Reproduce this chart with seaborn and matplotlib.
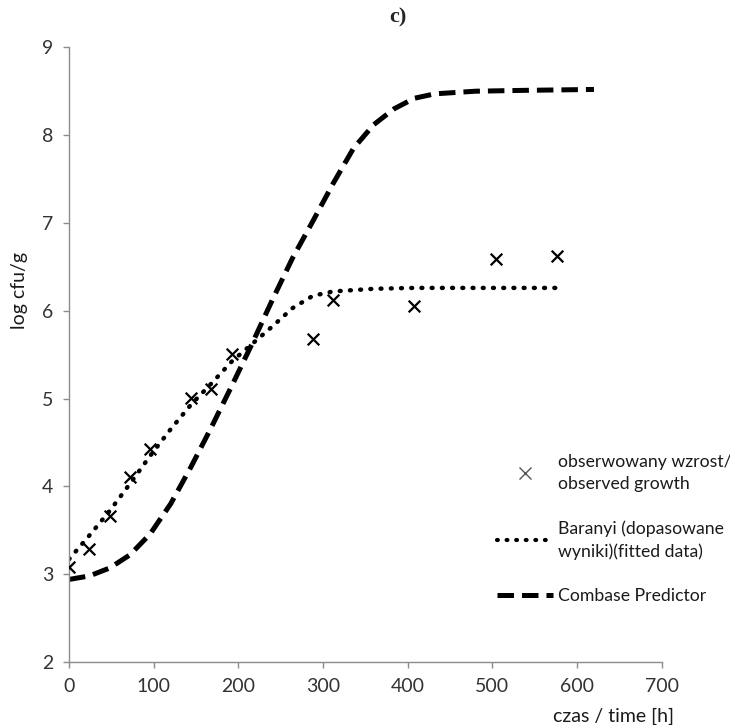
import matplotlib
matplotlib.use('Agg')
import matplotlib.pyplot as plt
import seaborn as sns
import pandas as pd
from matplotlib.lines import Line2D

# observed growth
time_obs = [0, 24, 48, 72, 96, 144, 168, 192, 288, 312, 408, 504, 576]
log_obs = [3.08, 3.29, 3.66, 4.11, 4.42, 5.01, 5.11, 5.51, 5.68, 6.12, 6.05, 6.59, 6.62]

# Baranyi fitted curve
time_fit = [0, 24, 48, 72, 96, 120, 144, 168, 192, 216, 240, 264, 288, 312, 360, 408, 504, 576]
log_fit = [3.17, 3.44, 3.72, 4.03, 4.35, 4.65, 4.93, 5.17, 5.42, 5.62, 5.82, 6.03, 6.17, 6.22, 6.25, 6.26, 6.26, 6.26]

# Combase Predictor curve
time_pred = [0, 24, 48, 72, 96, 120, 144, 168, 192, 216, 240, 264, 288, 312, 336, 360, 384, 408, 432, 480, 540, 620]
log_pred = [2.94, 2.98, 3.07, 3.22, 3.46, 3.80, 4.22, 4.67, 5.14, 5.62, 6.12, 6.60, 7.02, 7.45, 7.85, 8.12, 8.30, 8.42, 8.47, 8.50, 8.51, 8.52]

labels = ['obserwowany wzrost/\nobserved growth',
          'Baranyi (dopasowane\nwyniki)(fitted data)',
          'Combase Predictor']

sns.set_style('white')
plt.rcParams['font.family'] = ['Lato', 'DejaVu Sans']

fig = plt.figure(figsize=(7.3, 7.25), dpi=100)
ax = fig.add_axes([69 / 730, 1 - 662 / 725, 592.7 / 730, 614.7 / 725])

obs = pd.DataFrame({'t': time_obs, 'y': log_obs})
fit = pd.DataFrame({'t': time_fit, 'y': log_fit})
pred = pd.DataFrame({'t': time_pred, 'y': log_pred})

sns.scatterplot(data=obs, x='t', y='y', marker='x', color='black', s=70,
                linewidth=1.6, ax=ax, zorder=3)
sns.lineplot(data=fit, x='t', y='y', color='black', lw=3.2, ax=ax,
             linestyle=(0, (0.2, 2.1)), dash_capstyle='round', zorder=2)
sns.lineplot(data=pred, x='t', y='y', color='black', lw=3.6, ax=ax,
             linestyle=(0, (3.3, 1.6)), zorder=2)

ax.set_xlim(0, 700)
ax.set_ylim(2, 9)
ax.set_xticks(range(0, 701, 100))
ax.set_yticks(range(2, 10))
for side in ['top', 'right']:
    ax.spines[side].set_visible(False)
for side in ['left', 'bottom']:
    ax.spines[side].set_color('#8c8c8c')
    ax.spines[side].set_linewidth(1.0)
ax.tick_params(axis='both', direction='out', length=4.5, width=1.0, color='#8c8c8c',
               labelsize=14, labelcolor='#333333', pad=7, bottom=True, left=True)

ax.set_xlabel('')
ax.set_ylabel('log cfu/g', fontsize=14, color='#1a1a1a')
ax.yaxis.set_label_coords(-0.07, 0.605)
fig.text(674 / 730, 1 - 716 / 725, 'czas / time [h]', ha='right', va='center',
         fontsize=14, color='#1a1a1a')
fig.text(0.545, 1 - 17 / 725, 'c)', ha='center', va='center', fontsize=16,
         fontweight='bold', family='Liberation Serif')

handles = [
    Line2D([], [], marker='x', color='#555555', linestyle='none', markersize=8,
           markeredgewidth=1.0),
    Line2D([], [], color='black', lw=3.0, linestyle=(0, (0.2, 2.1)),
           dash_capstyle='round'),
    Line2D([], [], color='black', lw=3.6, linestyle=(0, (3.3, 1.6))),
]
leg = ax.legend(handles, labels, loc='upper left', bbox_to_anchor=(0.722, 0.338),
                frameon=False, fontsize=12.7, handlelength=3.2, handletextpad=0.25,
                labelspacing=1.6, borderpad=0, borderaxespad=0)
for t in leg.get_texts():
    t.set_linespacing(1.45)
    t.set_color('#1a1a1a')

fig.savefig('out.png', dpi=100)
